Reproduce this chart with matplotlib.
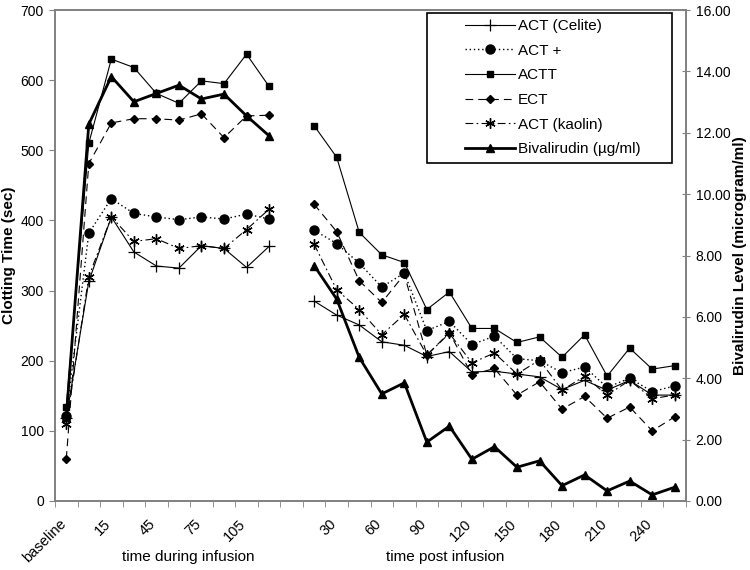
import numpy as np
import matplotlib
matplotlib.use("Agg")
import matplotlib.pyplot as plt
from matplotlib.patches import Rectangle
from matplotlib.transforms import ScaledTranslation

plt.rcParams['font.family'] = ['Liberation Sans', 'DejaVu Sans']

nan = np.nan

# categories: baseline + during infusion (min), gap, post infusion (min)
during_labels = ["baseline", "5", "15", "30", "45", "60", "75", "90", "105", "120"]
gap_labels = [""]
post_labels = ["15", "30", "45", "60", "75", "90", "105", "120", "135", "150",
               "165", "180", "195", "210", "225", "240", "255"]
categories = during_labels + gap_labels + post_labels

act_celite = [118, 313, 405, 355, 335, 332, 364, 360, 333, 363,
              nan,
              285, 265, 251, 227, 222, 206, 213, 184, 185, 181, 177, 159, 172, 158, 172, 151, 151]
act_plus = [121, 382, 431, 410, 405, 401, 405, 402, 409, 402,
            nan,
            386, 367, 339, 305, 325, 243, 256, 223, 235, 203, 200, 183, 191, 162, 175, 156, 164]
actt = [134, 510, 630, 618, 581, 567, 599, 595, 637, 591,
        nan,
        535, 490, 383, 351, 340, 273, 298, 246, 246, 226, 234, 205, 237, 178, 218, 188, 193]
ect = [60, 481, 539, 545, 545, 543, 552, 518, 549, 550,
       nan,
       423, 384, 314, 283, 323, 208, 240, 180, 189, 151, 170, 131, 149, 118, 134, 100, 120]
act_kaolin = [110, 320, 405, 370, 374, 360, 364, 360, 387, 416,
              nan,
              366, 301, 273, 237, 266, 208, 239, 197, 211, 181, 201, 158, 178, 151, 172, 146, 151]
bivalirudin = [2.75, 12.28, 13.83, 13.01, 13.28, 13.55, 13.10, 13.26, 12.55, 11.90,
               nan,
               7.67, 6.58, 4.68, 3.49, 3.85, 1.92, 2.44, 1.36, 1.77, 1.10, 1.31, 0.50, 0.85, 0.33, 0.65, 0.20, 0.45]

x = np.arange(len(categories))

W, H = 750, 570
fig = plt.figure(figsize=(W / 100, H / 100), dpi=100)
L, R, T, B = 55, 686, 10, 501
ax = fig.add_axes([L / W, (H - B) / H, (R - L) / W, (B - T) / H])
ax2 = ax.twinx()

thin = 0.8
h1, = ax.plot(x, act_celite, color='black', lw=thin, marker='+', ms=9, mew=0.9,
              label='ACT (Celite)')
h2, = ax.plot(x, act_plus, color='black', lw=1.0, ls=(0, (1, 2)), marker='o', ms=6.5,
              label='ACT +')
h3, = ax.plot(x, actt, color='black', lw=thin, marker='s', ms=4.8,
              label='ACTT')
h4, = ax.plot(x, ect, color='black', lw=thin, ls=(0, (7, 4.5)), marker='D', ms=4,
              label='ECT')
h5, = ax.plot(x, act_kaolin, color='black', lw=thin, ls=(0, (7, 3, 1.5, 3)),
              marker=(6, 2, 0), ms=7.5, mew=1.0, label='ACT (kaolin)')
h6, = ax2.plot(x, bivalirudin, color='black', lw=2.0, marker='^', ms=5.5,
               label='Bivalirudin (\u00b5g/ml)')

ax.set_xlim(-0.5, len(categories) - 0.5)
ax.set_ylim(0, 700)
ax2.set_ylim(0, 16)
ax.set_yticks(np.arange(0, 701, 100))
ax2.set_yticks(np.arange(0, 16.01, 2))
ax2.set_yticklabels([f"{v:.2f}" for v in np.arange(0, 16.01, 2)])

gray = '#808080'
for a in (ax, ax2):
    for s in a.spines.values():
        s.set_color(gray)
        s.set_linewidth(1.2)

ax.tick_params(axis='y', direction='out', length=4, color=gray, pad=4, labelsize=10)
ax2.tick_params(axis='y', direction='inout', length=6, color=gray, pad=4, labelsize=10)

# category labels (every other) at centers, tick marks between categories
ax.set_xticks(x[::2])
ax.set_xticklabels(categories[::2], rotation=45, ha='right', va='center',
                   rotation_mode='anchor', fontsize=10.5)
ax.tick_params(axis='x', which='major', length=0, pad=15)
ax.set_xticks(np.arange(-0.5, len(categories), 1.0), minor=True)
ax.tick_params(axis='x', which='minor', direction='out', length=4, color=gray)
off = ScaledTranslation(-2 / 72, 0, fig.dpi_scale_trans)
for lab in ax.get_xticklabels():
    lab.set_transform(lab.get_transform() + off)

ax.set_ylabel('Clotting Time (sec)', fontsize=11, fontweight='bold')
ax.yaxis.set_label_coords(-(L - 16) / (R - L), 0.5)
ax2.set_ylabel('Bivalirudin Level (microgram/ml)', fontsize=11, fontweight='bold')
ax2.yaxis.set_label_coords((733 - L) / (R - L), 0.5)

fig.text(188 / W, 1 - 557 / H, 'time during infusion', ha='center', va='center', fontsize=11)
fig.text(445 / W, 1 - 557 / H, 'time post infusion', ha='center', va='center', fontsize=11)

# legend box
bx0, bx1, by0, by1 = 427, 672, 163, 13
rect = Rectangle(((bx0 - L) / (R - L), (B - by0) / (B - T)),
                 (bx1 - bx0) / (R - L), (by0 - by1) / (B - T),
                 transform=ax2.transAxes, facecolor='white', edgecolor='black',
                 lw=1.2, zorder=5)
ax2.add_patch(rect)
leg = ax2.legend(handles=[h1, h2, h3, h4, h5, h6], loc='upper left',
                 bbox_to_anchor=((465 - L) / (R - L), (B - 19) / (B - T)),
                 frameon=False, borderpad=0, borderaxespad=0, fontsize=11,
                 handlelength=3.3, handletextpad=0.15, labelspacing=0.7,
                 numpoints=1)
leg.set_zorder(6)

fig.savefig('out.png', dpi=100)
